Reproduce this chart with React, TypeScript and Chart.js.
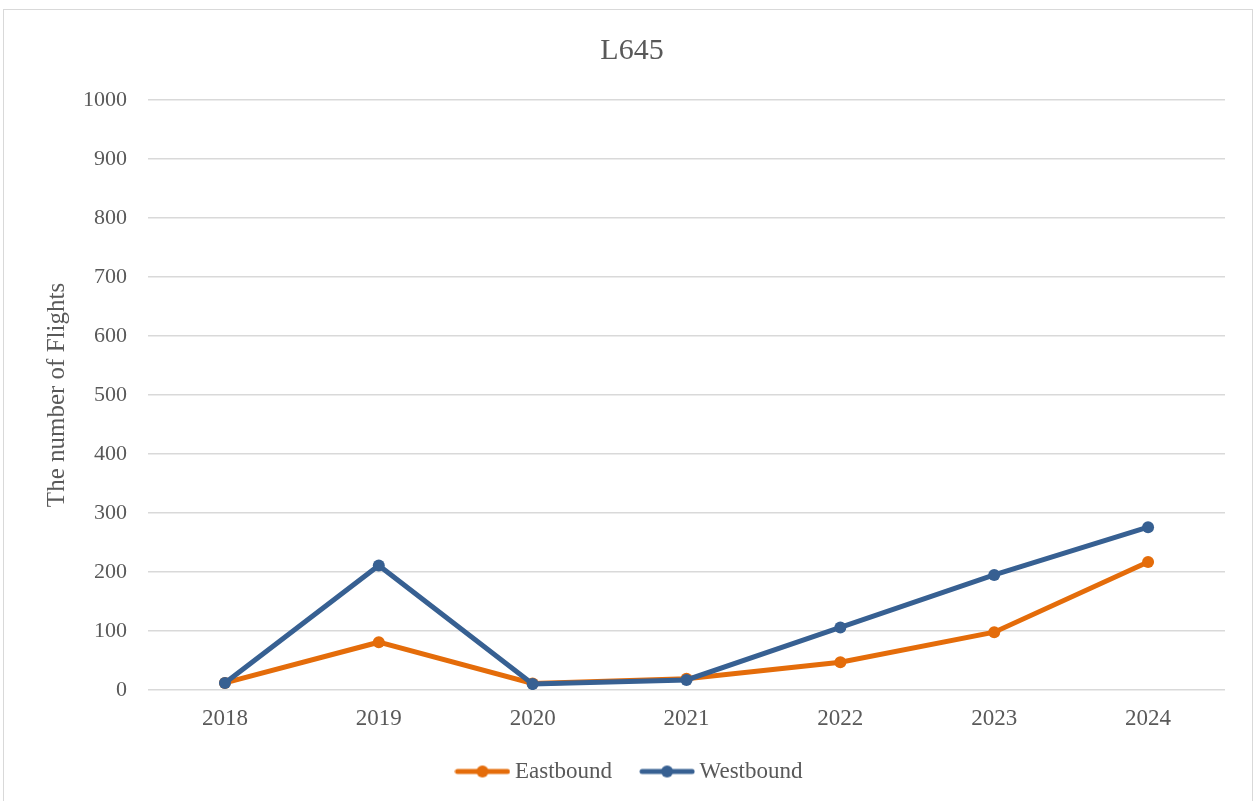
import React, { useEffect, useRef } from "react";
import { Chart, registerables } from "chart.js";

Chart.register(...registerables);

const categories = ["2018", "2019", "2020", "2021", "2022", "2023", "2024"];
const eastbound = [12, 81, 11, 19, 47, 98, 217];
const westbound = [12, 211, 10, 17, 106, 195, 276];
const seriesNames = ["Eastbound", "Westbound"];
const seriesColors = ["#E46C0A", "#376092"];
const chartTitle = "L645";
const yAxisTitle = "The number of Flights";

const FONT = "'Liberation Serif', 'Times New Roman', serif";
const TEXT = "#595959";

function makeIcon(color: string): HTMLCanvasElement {
  const c = document.createElement("canvas");
  c.width = 56;
  c.height = 14;
  const ctx = c.getContext("2d")!;
  ctx.strokeStyle = color;
  ctx.lineWidth = 5;
  ctx.lineCap = "round";
  ctx.beginPath();
  ctx.moveTo(3, 7);
  ctx.lineTo(53, 7);
  ctx.stroke();
  ctx.fillStyle = color;
  ctx.beginPath();
  ctx.arc(28, 7, 6, 0, Math.PI * 2);
  ctx.fill();
  return c;
}

export default function App() {
  const ref = useRef<HTMLCanvasElement>(null);

  useEffect(() => {
    if (!ref.current) return;
    const icons = seriesColors.map(makeIcon);
    const chart = new Chart(ref.current, {
      type: "line",
      data: {
        labels: categories,
        datasets: [
          {
            label: seriesNames[0],
            data: eastbound,
            borderColor: seriesColors[0],
            backgroundColor: seriesColors[0],
            borderWidth: 5,
            pointRadius: 6,
            pointBorderWidth: 0,
            pointBackgroundColor: seriesColors[0],
            tension: 0,
            order: 1,
          },
          {
            label: seriesNames[1],
            data: westbound,
            borderColor: seriesColors[1],
            backgroundColor: seriesColors[1],
            borderWidth: 5,
            pointRadius: 6,
            pointBorderWidth: 0,
            pointBackgroundColor: seriesColors[1],
            tension: 0,
            order: 0,
          },
        ],
      },
      options: {
        responsive: false,
        animation: false,
        devicePixelRatio: 1,
        layout: { padding: { left: 35, right: 27, top: 0, bottom: 15 } },
        plugins: {
          title: {
            display: true,
            text: chartTitle,
            color: TEXT,
            font: { family: FONT, size: 30, weight: "normal" },
            padding: { top: 23, bottom: 31 },
          },
          legend: {
            display: true,
            position: "bottom",
            labels: {
              usePointStyle: true,
              pointStyleWidth: 42,
              padding: 34,
              color: TEXT,
              font: { family: FONT, size: 23 },
              sort: (a: any, b: any) => a.datasetIndex - b.datasetIndex,
              generateLabels: (ch: any) => {
                const items = (Chart.defaults.plugins.legend.labels as any).generateLabels(ch);
                return items.map((it: any) => ({
                  ...it,
                  pointStyle: icons[it.datasetIndex],
                }));
              },
            },
          },
          tooltip: { enabled: false },
        },
        scales: {
          x: {
            offset: true,
            grid: { display: false, drawTicks: false },
            border: { display: false },
            ticks: {
              color: TEXT,
              font: { family: FONT, size: 23 },
              padding: 15,
              maxRotation: 0,
            },
            afterFit: (s: any) => {
              s.height = 36;
            },
          },
          y: {
            min: 0,
            max: 1000,
            grid: { color: "#D9D9D9", lineWidth: 1.5, drawTicks: false },
            border: { display: false },
            ticks: {
              stepSize: 100,
              color: TEXT,
              font: { family: FONT, size: 22 },
              padding: 21,
              callback: (v: any) => String(v),
            },
            title: {
              display: true,
              text: yAxisTitle,
              color: TEXT,
              font: { family: FONT, size: 25 },
              padding: { top: 3, bottom: 0 },
            },
            afterFit: (s: any) => {
              s.width = 109;
            },
          },
        },
      },
    });
    return () => chart.destroy();
  }, []);

  return (
    <div
      style={{
        position: "fixed",
        left: 0,
        top: 0,
        width: 1257,
        height: 801,
        overflow: "hidden",
        background: "#ffffff",
      }}
    >
      <div
        style={{
          position: "absolute",
          left: 3,
          top: 9,
          width: 1250,
          height: 800,
          boxSizing: "border-box",
          border: "1px solid #D9D9D9",
          background: "#ffffff",
        }}
      >
        <canvas ref={ref} width={1248} height={798} style={{ display: "block" }} />
      </div>
    </div>
  );
}
